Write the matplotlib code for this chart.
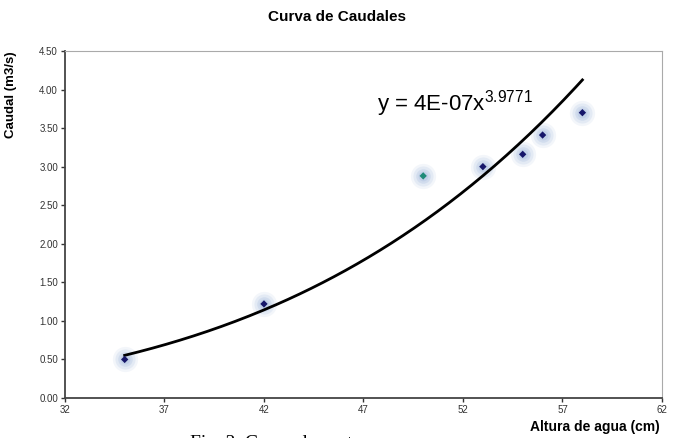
import numpy as np
import matplotlib
matplotlib.use('Agg')
import matplotlib.pyplot as plt

plt.rcParams.update({
    'font.family': 'Liberation Sans',
    'mathtext.fontset': 'custom',
    'mathtext.rm': 'Liberation Sans',
    'mathtext.it': 'Liberation Sans',
    'mathtext.bf': 'Liberation Sans:bold',
})

# ── Data ─────────────────────────────────────────────────────────────────────
altura = [35, 42, 50, 53, 55, 56, 58]            # cm
caudal = [0.50, 1.22, 2.88, 3.00, 3.16, 3.41, 3.70]  # m3/s
coef_a, coef_b = 4e-7, 3.9771                    # power trendline
x_ticks = [32, 37, 42, 47, 52, 57, 62]
y_ticks = [0.0, 0.5, 1.0, 1.5, 2.0, 2.5, 3.0, 3.5, 4.0, 4.5]

NAVY = '#16166a'
GLOW = '#9fb6dc'
center_cols = [NAVY, NAVY, '#1f8a78', NAVY, NAVY, NAVY, NAVY]

fig = plt.figure(figsize=(6.74, 4.38), dpi=100)
ax = fig.add_axes([0.0964, 0.0913, 0.8858, 0.7923])

# glow around points
for s, a in [(330, 0.12), (210, 0.18), (110, 0.25), (50, 0.3)]:
    ax.scatter(altura, caudal, s=s, color=GLOW, alpha=a, lw=0, zorder=2)
ax.scatter(altura, caudal, s=14, marker='D', color=center_cols, lw=0, zorder=4)

# trendline
xf = np.linspace(min(altura), max(altura), 200)
ax.plot(xf, coef_a * xf ** coef_b, color='black', lw=2, zorder=3)

ax.text(47.7, 3.73, r'y = 4E-07x$^{3.9771}$', fontsize=16, color='black')

ax.set_xlim(32, 62)
ax.set_ylim(0, 4.5)
ax.set_xticks(x_ticks)
ax.set_yticks(y_ticks)
ax.set_yticklabels([f'{v:.2f}' for v in y_ticks])
ax.tick_params(labelsize=7, length=3, width=1, colors='#333333', pad=2)

for side in ['top', 'right']:
    ax.spines[side].set_color('#aaaaaa')
for side in ['left', 'bottom']:
    ax.spines[side].set_color('#444444')
    ax.spines[side].set_linewidth(1.3)

ax.set_ylabel('Caudal (m3/s)', fontsize=9.5, fontweight='bold')
ax.yaxis.set_label_coords(-0.080, 0.873)
fig.text(0.5, 0.961, 'Curva de Caudales', ha='center', va='center',
         fontsize=11, fontweight='bold')
fig.text(0.979, 0.025, 'Altura de agua (cm)', ha='right', va='center',
         fontsize=10, fontweight='bold')
fig.text(0.41, -0.012, 'Fig. 3. Curva de gasto', ha='center', va='center',
         fontsize=14, family='Liberation Serif')

fig.savefig('out.png', dpi=100)
